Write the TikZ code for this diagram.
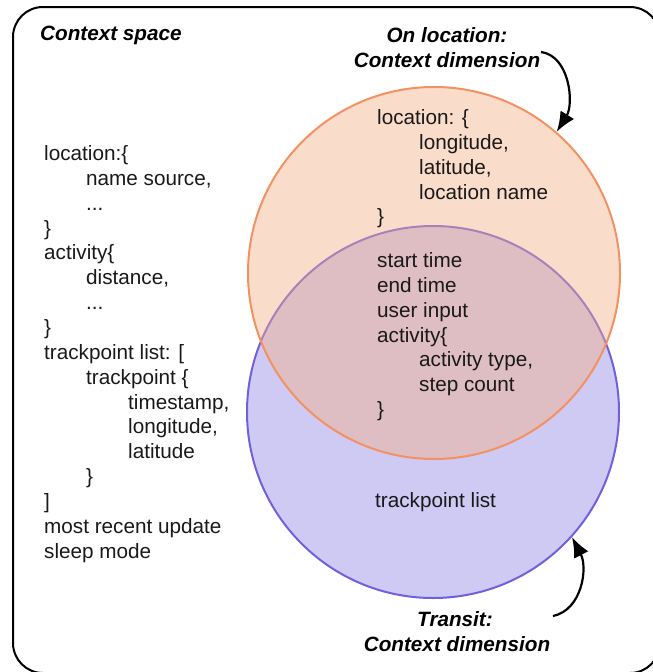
\documentclass[tikz,border=0pt]{standalone}
\usepackage{fontspec}
\setmainfont{Liberation Sans}
\usetikzlibrary{arrows.meta}
\definecolor{bluefill}{RGB}{207,202,243}
\definecolor{bluedraw}{RGB}{112,96,224}
\definecolor{orfill}{RGB}{243,174,134}
\definecolor{ordraw}{RGB}{242,146,98}
\definecolor{txtc}{RGB}{25,25,25}
\tikzset{
  txt/.style={anchor=base west, inner sep=0pt, text=txtc, font=\fontsize{20.7}{24.85}\selectfont},
  ttl/.style={anchor=base, inner sep=0pt, text=black, font=\fontsize{20.7}{24.85}\selectfont\bfseries\itshape},
  setc/.style={circle, minimum size=372pt, inner sep=0pt, line width=2pt},
  pointer/.style={draw=black, line width=2.2pt, -{Latex[length=20pt,width=16pt]}},
  frame/.style={draw=black, line width=2pt, rounded corners=30pt}
}
\begin{document}
\begin{tikzpicture}[x=1pt, y={(0pt,-1pt)}]
\useasboundingbox (0,0) rectangle (653,672);
\begin{scope}
\clip (0,0) rectangle (653,672);
\draw[frame] (13,7) rectangle (660,673);
\end{scope}
% sets
\node[setc, draw=bluedraw, fill=bluefill] (trn) at (433,412) {};
\node[setc, draw=ordraw, fill=orfill, fill opacity=0.43] (loc) at (434,273) {};
% titles
\node[ttl, anchor=base west] (cs) at (40,40) {Context space};
\node[ttl] (ol1) at (447,42.5) {On location:};
\node[ttl] (ol2) at (447,67) {Context dimension};
\node[ttl] (tr1) at (455,626) {Transit:};
\node[ttl] (tr2) at (457,651) {Context dimension};
% arrows
\coordinate (s1) at (541,52);
\coordinate (s2) at (553,616);
\draw[pointer] (s1) .. controls (570,56) and (574,104) .. (loc.49);
\draw[pointer] (s2) .. controls (582,610) and (588,568) .. (trn.-42);
% left list
\node[txt] (l0) at (44,160.5) {location:\{};
\node[txt] (l1) at (86,185.35) {name source,};
\node[txt] (l2) at (86,210.2) {...};
\node[txt] (l3) at (44,235.05) {\}};
\node[txt] (l4) at (44,259.9) {activity\{};
\node[txt] (l5) at (86,284.75) {distance,};
\node[txt] (l6) at (86,309.6) {...};
\node[txt] (l7) at (44,334.45) {\}};
\node[txt] (l8) at (44,359.3) {trackpoint list: [};
\node[txt] (l9) at (86,384.15) {trackpoint \{};
\node[txt] (l10) at (128,409) {timestamp,};
\node[txt] (l11) at (128,433.85) {longitude,};
\node[txt] (l12) at (128,458.7) {latitude};
\node[txt] (l13) at (86,483.55) {\}};
\node[txt] (l14) at (44,508.4) {]};
\node[txt] (l15) at (44,533.25) {most recent update};
\node[txt] (l16) at (44,558.1) {sleep mode};
% location set
\node[txt] (r0) at (377,124.5) {location: \{};
\node[txt] (r1) at (419,149.35) {longitude,};
\node[txt] (r2) at (419,174.2) {latitude,};
\node[txt] (r3) at (419,199.05) {location name};
\node[txt] (r4) at (377,223.9) {\}};
% overlap
\node[txt] (m0) at (377,267.5) {start time};
\node[txt] (m1) at (377,292.35) {end time};
\node[txt] (m2) at (377,317.2) {user input};
\node[txt] (m3) at (377,342.05) {activity\{};
\node[txt] (m4) at (419,366.9) {activity type,};
\node[txt] (m5) at (419,391.75) {step count};
\node[txt] (m6) at (377,416.6) {\}};
% transit set
\node[txt] (t0) at (375,507.5) {trackpoint list};
\end{tikzpicture}
\end{document}
